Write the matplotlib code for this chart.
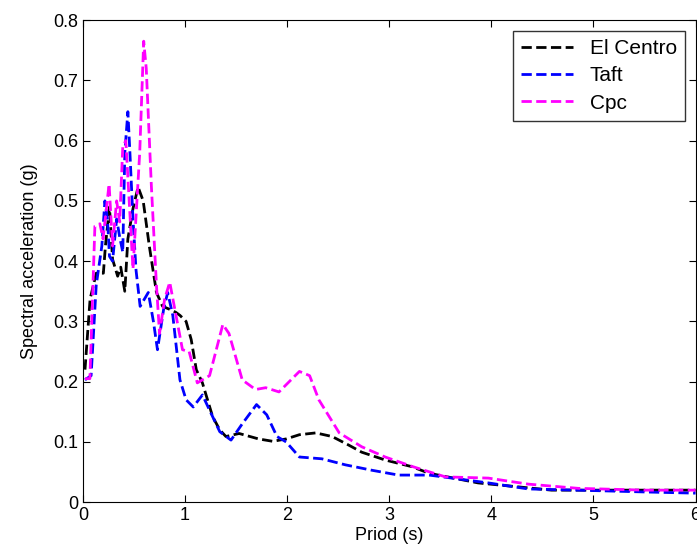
import matplotlib
matplotlib.use("Agg")
import matplotlib.pyplot as plt

plt.rcParams['font.family'] = ['Liberation Sans', 'DejaVu Sans']

# El Centro
x_elc = [0.02, 0.07, 0.13, 0.20, 0.22, 0.26, 0.29, 0.34, 0.37, 0.41, 0.44, 0.49, 0.54,
         0.59, 0.65, 0.72, 0.78, 0.85, 0.91, 0.95, 1.01, 1.06, 1.11, 1.17, 1.27, 1.34,
         1.40, 1.53, 1.72, 1.86, 1.99, 2.12, 2.28, 2.44, 2.60, 2.73, 2.96, 3.22, 3.39,
         3.87, 4.59, 5.2, 6.0]
y_elc = [0.22, 0.337, 0.38, 0.38, 0.425, 0.49, 0.403, 0.375, 0.39, 0.35, 0.437, 0.487, 0.523,
         0.50, 0.425, 0.348, 0.325, 0.32, 0.315, 0.31, 0.30, 0.27, 0.22, 0.198, 0.142, 0.12,
         0.109, 0.114, 0.105, 0.101, 0.105, 0.112, 0.115, 0.109, 0.095, 0.083, 0.07, 0.059, 0.048,
         0.032, 0.02, 0.02, 0.02]

# Taft
x_taft = [0.02, 0.08, 0.13, 0.185, 0.215, 0.24, 0.26, 0.29, 0.33, 0.36, 0.39, 0.41, 0.44,
          0.46, 0.49, 0.52, 0.56, 0.64, 0.69, 0.73, 0.79, 0.83, 0.88, 0.95, 1.01, 1.08,
          1.17, 1.27, 1.34, 1.45, 1.56, 1.70, 1.80, 1.90, 1.99, 2.12, 2.34, 2.57, 2.83,
          3.09, 3.39, 3.97, 4.36, 4.85, 5.5, 6.0]
y_taft = [0.203, 0.21, 0.36, 0.425, 0.50, 0.47, 0.408, 0.40, 0.47, 0.44, 0.415, 0.58, 0.648,
          0.58, 0.47, 0.385, 0.325, 0.348, 0.30, 0.253, 0.32, 0.348, 0.31, 0.203, 0.17, 0.158,
          0.178, 0.142, 0.117, 0.103, 0.13, 0.162, 0.145, 0.109, 0.10, 0.075, 0.072, 0.062, 0.053,
          0.045, 0.045, 0.032, 0.022, 0.02, 0.017, 0.015]

# Cpc
x_cpc = [0.02, 0.068, 0.117, 0.166, 0.197, 0.256, 0.29, 0.33, 0.36, 0.39, 0.42, 0.49, 0.556,
         0.595, 0.62, 0.67, 0.72, 0.75, 0.80, 0.85, 0.90, 0.975, 1.04, 1.12, 1.24, 1.37,
         1.43, 1.56, 1.69, 1.79, 1.92, 2.12, 2.22, 2.31, 2.51, 2.73, 2.96, 3.23, 3.55,
         3.97, 4.36, 4.85, 5.5, 6.0]
y_cpc = [0.205, 0.205, 0.458, 0.462, 0.437, 0.528, 0.425, 0.50, 0.465, 0.59, 0.60, 0.387, 0.58,
         0.765, 0.72, 0.525, 0.36, 0.28, 0.337, 0.365, 0.32, 0.253, 0.25, 0.198, 0.21, 0.295,
         0.28, 0.203, 0.187, 0.19, 0.183, 0.217, 0.21, 0.17, 0.115, 0.092, 0.075, 0.059, 0.042,
         0.04, 0.03, 0.023, 0.02, 0.02]

fig = plt.figure(figsize=(6.97, 5.58), dpi=100)
ax1 = fig.add_axes([0.119, 0.100, 0.879, 0.864])
font_size = 13

ax1.plot(x_elc, y_elc, "--", lw=2, color="black", label="El Centro")
ax1.plot(x_taft, y_taft, "--", lw=2, color="blue", label="Taft")
ax1.plot(x_cpc, y_cpc, "--", lw=2, color="magenta", label="Cpc")

ax1.set_xlim([0, 6])
ax1.set_ylim([0, 0.8])
ax1.set_xticks([0, 1, 2, 3, 4, 5, 6])
ax1.set_yticks([0, 0.1, 0.2, 0.3, 0.4, 0.5, 0.6, 0.7, 0.8])
ax1.set_yticklabels(["0", "0.1", "0.2", "0.3", "0.4", "0.5", "0.6", "0.7", "0.8"])
ax1.tick_params(direction="in", top=True, right=True, labelsize=font_size, length=5)
ax1.set_xlabel("Priod (s)", size=font_size, labelpad=2)
ax1.set_ylabel("Spectral acceleration (g)", size=font_size, labelpad=11)

legend = ax1.legend(loc=1, fontsize=15, fancybox=False, edgecolor="black",
                    handlelength=2.5, borderaxespad=0.5, labelspacing=0.4)
legend.get_frame().set_linewidth(1.0)

fig.savefig("out.png", dpi=100)
